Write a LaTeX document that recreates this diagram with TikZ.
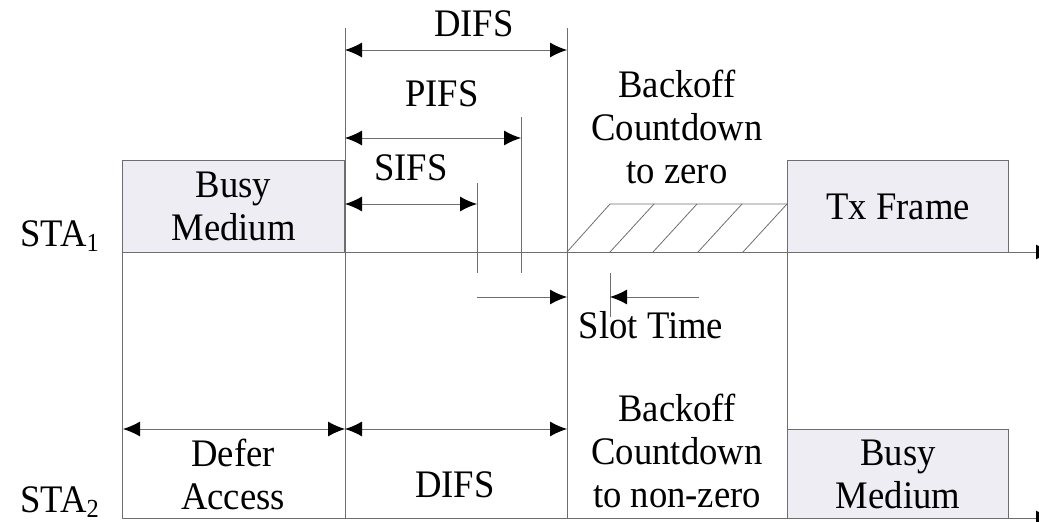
\documentclass[tikz,border=0pt]{standalone}
\usepackage{fontspec}
\setmainfont[FakeStretch=0.94]{Liberation Serif}
\usetikzlibrary{arrows.meta}
\definecolor{figGris}{RGB}{110,110,110}
\definecolor{figFond}{RGB}{239,237,244}
\newcommand{\sta}[1]{STA\raisebox{-5pt}{\fontsize{26}{26}\selectfont #1}}

\begin{document}
\begin{tikzpicture}[
  x=1pt, y=-1pt,
  every node/.style={font=\fontsize{39}{43}\selectfont, inner sep=0pt},
  busy/.style={draw=figGris, fill=figFond, line width=1.2pt, align=center, anchor=north west},
  trait/.style={draw=figGris, line width=1pt},
  fleche/.style={trait, -{Latex[length=17pt,width=15pt,color=black]}},
  duree/.style={trait, {Latex[length=17pt,width=15pt,color=black]}-{Latex[length=17pt,width=15pt,color=black]}},
  lbl/.style={anchor=base, align=center},
  bloc/.style={align=center}
]
\useasboundingbox (0,0) rectangle (1039,522);

% boxes
\node[busy, minimum width=222pt, minimum height=92pt] (busyA) at (122,160) {Busy\\Medium};
\node[busy, minimum width=221pt, minimum height=92pt] (tx) at (787,160) {Tx Frame};
\node[busy, minimum width=221pt, minimum height=89pt] (busyB) at (787,429) {Busy\\Medium};

% time axes
\coordinate (s1a) at (122,252);
\coordinate (s1b) at (1053,252);
\coordinate (s2a) at (122,518);
\coordinate (s2b) at (1053,518);
\draw[fleche] (s1a) -- (s1b);
\draw[fleche] (s2a) -- (s2b);
\node[anchor=base west] (sta1) at (20,246) {\sta{1}};
\node[anchor=base west] (sta2) at (20,512) {\sta{2}};

% markers
\coordinate (tA) at (345,28);   \coordinate (bA) at (345,518);
\coordinate (tD) at (567,28);   \coordinate (bD) at (567,518);
\coordinate (tS) at (477,183);  \coordinate (bS) at (477,273);
\coordinate (tP) at (521,117);  \coordinate (bP) at (521,273);
\coordinate (tT) at (610,273);  \coordinate (bT) at (610,317);
\draw[trait] (s1a) -- (s2a);
\draw[trait] (tA) -- (bA);
\draw[trait] (tD) -- (bD);
\draw[trait] (tS) -- (bS);
\draw[trait] (tP) -- (bP);
\draw[trait] (tT) -- (bT);
\draw[trait] (tx.south west) -- (busyB.north west);

% interframe spaces
\draw[duree] (345,50) -- (567,50);
\draw[duree] (345,138) -- (521,138);
\draw[duree] (345,204) -- (477,204);
\node[lbl] (difs) at (474,36) {DIFS};
\node[lbl] (pifs) at (442,106) {PIFS};
\node[lbl] (sifs) at (411,180) {SIFS};

% slot time
\draw[fleche] (477,297) -- (567,297);
\draw[fleche] (699,297) -- (610,297);
\node[lbl] (slot) at (651,338) {Slot Time};

% backoff STA1
\draw[trait, line width=0.8pt] (567,252) -- (610,204) -- (tx.west |- 0,204);
\foreach \b in {610,653,698,743}
  \draw[trait, line width=0.8pt] (\b,252) -- ++(44,-48);
\node[bloc] (boA) at (677,127) {Backoff\\Countdown\\to zero};

% STA2
\draw[duree] (123,429) -- (345,429);
\draw[duree] (345,429) -- (567,429);
\node[bloc] (defer) at (233,474) {Defer\\Access};
\node[anchor=base] (difsB) at (455,497) {DIFS};
\node[bloc] (boB) at (677,451) {Backoff\\Countdown\\to non-zero};
\end{tikzpicture}
\end{document}
